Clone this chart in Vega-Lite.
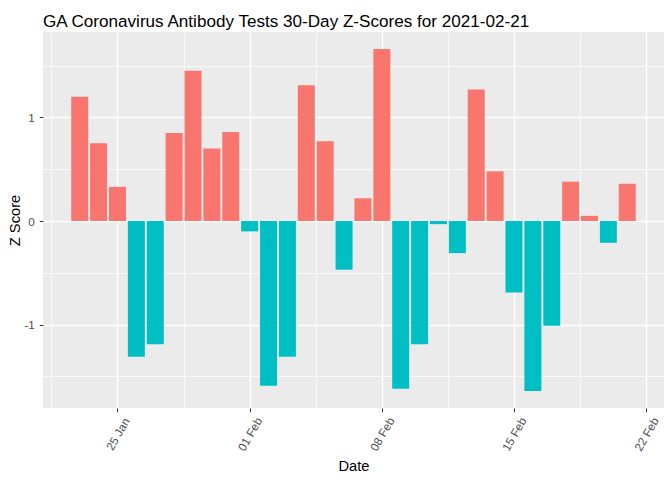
{
  "$schema": "https://vega.github.io/schema/vega-lite/v6.json",
  "width": 621,
  "height": 376,
  "autosize": {"type": "none"},
  "padding": {"left": 43, "top": 32, "right": 8, "bottom": 72},
  "background": "white",
  "title": {
    "text": "GA Coronavirus Antibody Tests 30-Day Z-Scores for 2021-02-21",
    "anchor": "start",
    "frame": "group",
    "fontSize": 17.1,
    "font": "Liberation Sans",
    "fontWeight": "normal",
    "color": "#000000",
    "baseline": "alphabetic",
    "offset": 10,
    "dy": 22
  },
  "config": {
    "view": {"fill": "#EBEBEB", "stroke": null},
    "font": "Liberation Sans"
  },
  "data": {
    "values": [
      {"date": "2021-01-23", "z": 1.20},
      {"date": "2021-01-24", "z": 0.75},
      {"date": "2021-01-25", "z": 0.33},
      {"date": "2021-01-26", "z": -1.31},
      {"date": "2021-01-27", "z": -1.19},
      {"date": "2021-01-28", "z": 0.85},
      {"date": "2021-01-29", "z": 1.45},
      {"date": "2021-01-30", "z": 0.70},
      {"date": "2021-01-31", "z": 0.86},
      {"date": "2021-02-01", "z": -0.10},
      {"date": "2021-02-02", "z": -1.59},
      {"date": "2021-02-03", "z": -1.31},
      {"date": "2021-02-04", "z": 1.31},
      {"date": "2021-02-05", "z": 0.77},
      {"date": "2021-02-06", "z": -0.47},
      {"date": "2021-02-07", "z": 0.22},
      {"date": "2021-02-08", "z": 1.66},
      {"date": "2021-02-09", "z": -1.62},
      {"date": "2021-02-10", "z": -1.19},
      {"date": "2021-02-11", "z": -0.03},
      {"date": "2021-02-12", "z": -0.31},
      {"date": "2021-02-13", "z": 1.27},
      {"date": "2021-02-14", "z": 0.48},
      {"date": "2021-02-15", "z": -0.69},
      {"date": "2021-02-16", "z": -1.64},
      {"date": "2021-02-17", "z": -1.01},
      {"date": "2021-02-18", "z": 0.38},
      {"date": "2021-02-19", "z": 0.05},
      {"date": "2021-02-20", "z": -0.21},
      {"date": "2021-02-21", "z": 0.36}
    ]
  },
  "mark": {"type": "bar", "width": 17},
  "encoding": {
    "x": {
      "field": "date",
      "type": "temporal",
      "scale": {
        "type": "utc",
        "padding": 0,
        "domain": [
          {"year": 2021, "month": 1, "date": 21, "hours": 1, "minutes": 19, "utc": true},
          {"year": 2021, "month": 2, "date": 22, "hours": 22, "minutes": 41, "utc": true}
        ]
      },
      "axis": {
        "values": [
          {"year": 2021, "month": 1, "date": 21, "hours": 12, "utc": true},
          {"year": 2021, "month": 1, "date": 25, "utc": true},
          {"year": 2021, "month": 1, "date": 28, "hours": 12, "utc": true},
          {"year": 2021, "month": 2, "date": 1, "utc": true},
          {"year": 2021, "month": 2, "date": 4, "hours": 12, "utc": true},
          {"year": 2021, "month": 2, "date": 8, "utc": true},
          {"year": 2021, "month": 2, "date": 11, "hours": 12, "utc": true},
          {"year": 2021, "month": 2, "date": 15, "utc": true},
          {"year": 2021, "month": 2, "date": 18, "hours": 12, "utc": true},
          {"year": 2021, "month": 2, "date": 22, "utc": true}
        ],
        "labelExpr": "utchours(datum.value) === 0 ? utcFormat(datum.value, '%d %b') : ''",
        "labelAngle": -60,
        "labelAlign": "center",
        "labelBaseline": "middle",
        "labelPadding": 22,
        "labelFontSize": 11.7,
        "labelColor": "#4D4D4D",
        "labelOverlap": false,
        "labelFlush": false,
        "tickSize": 3.67,
        "tickColor": "#333333",
        "tickWidth": 1.07,
        "tickOpacity": {"condition": {"test": "utchours(datum.value) === 0", "value": 1}, "value": 0},
        "grid": true,
        "gridColor": "#FFFFFF",
        "gridWidth": {"condition": {"test": "utchours(datum.value) === 0", "value": 1.42}, "value": 0.71},
        "domain": false,
        "title": "Date",
        "titleFontSize": 14.7,
        "titleFontWeight": "normal",
        "titleColor": "#000000",
        "titleY": 62,
        "titleBaseline": "alphabetic"
      }
    },
    "y": {
      "field": "z",
      "type": "quantitative",
      "scale": {"domain": [-1.805, 1.825], "nice": false},
      "axis": {
        "values": [-1.5, -1, -0.5, 0, 0.5, 1, 1.5],
        "labelExpr": "datum.value % 1 === 0 ? '' + datum.value : ''",
        "labelFontSize": 11.7,
        "labelColor": "#4D4D4D",
        "labelPadding": 5,
        "tickSize": 3.67,
        "tickColor": "#333333",
        "tickWidth": 1.07,
        "tickOpacity": {"condition": {"test": "datum.value % 1 === 0", "value": 1}, "value": 0},
        "grid": true,
        "gridColor": "#FFFFFF",
        "gridWidth": {"condition": {"test": "datum.value % 1 === 0", "value": 1.42}, "value": 0.71},
        "domain": false,
        "title": "Z Score",
        "titleFontSize": 14.7,
        "titleFontWeight": "normal",
        "titleColor": "#000000",
        "titleX": -24,
        "titleY": 188,
        "titleAngle": -90,
        "titleAlign": "center",
        "titleBaseline": "alphabetic"
      }
    },
    "color": {
      "condition": {"test": "datum.z > 0", "value": "#F8766D"},
      "value": "#00BFC4"
    }
  }
}
